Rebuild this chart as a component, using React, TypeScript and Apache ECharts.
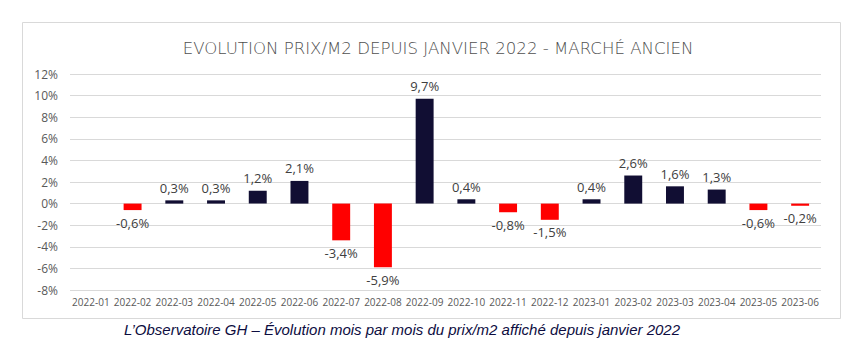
import React, { useEffect, useRef } from "react";
import * as echarts from "echarts";

const categories = [
  "2022-01", "2022-02", "2022-03", "2022-04", "2022-05", "2022-06",
  "2022-07", "2022-08", "2022-09", "2022-10", "2022-11", "2022-12",
  "2023-01", "2023-02", "2023-03", "2023-04", "2023-05", "2023-06",
];
const values: (number | null)[] = [
  null, -0.6, 0.3, 0.3, 1.2, 2.1, -3.4, -5.9, 9.7, 0.4, -0.8, -1.5,
  0.4, 2.6, 1.6, 1.3, -0.6, -0.2,
];
const yTicks = { min: -8, max: 12, interval: 2 };
const titleText = "EVOLUTION PRIX/M2 DEPUIS JANVIER 2022 - MARCHÉ ANCIEN";
const captionText = "L’Observatoire GH – Évolution mois par mois du prix/m2 affiché depuis janvier 2022";

const POS = "#110e33";
const NEG = "#ff0000";
const FONT = "'Open Sans', sans-serif";

export default function App() {
  const ref = useRef<HTMLDivElement>(null);
  useEffect(() => {
    if (!ref.current) return;
    const chart = echarts.init(ref.current, null, { renderer: "svg" });
    const fmt = (v: number) => v.toFixed(1).replace(".", ",") + "%";
    chart.setOption({
      animation: false,
      backgroundColor: "#ffffff",
      title: {
        text: titleText,
        left: 433,
        top: 35,
        textAlign: "center",
        textStyle: { color: "#4f4f4f", fontSize: 16.6, fontWeight: 200, fontFamily: "'DejaVu Sans', sans-serif" },
      },
      graphic: [
        {
          type: "rect",
          shape: { x: 22.5, y: 22.5, width: 818, height: 296 },
          style: { fill: "none", stroke: "#d9d9d9", lineWidth: 1 },
          silent: true,
        },
        {
          type: "text",
          x: 402,
          y: 329,
          style: {
            text: captionText,
            fill: "#0d0d3f",
            font: "italic 15px 'Liberation Sans', sans-serif",
            textAlign: "center",
            textVerticalAlign: "middle",
          },
        },
      ],
      grid: { left: 70, right: 39, top: 74, bottom: 66 },
      xAxis: {
        type: "category",
        data: categories,
        axisLine: { show: false },
        axisTick: { show: false },
        axisLabel: { color: "#595959", fontSize: 10, fontFamily: FONT, margin: 7, interval: 0 },
      },
      yAxis: {
        type: "value",
        min: yTicks.min,
        max: yTicks.max,
        interval: yTicks.interval,
        axisLine: { show: false },
        axisTick: { show: false },
        splitLine: { lineStyle: { color: "#d9d9d9", width: 1 } },
        axisLabel: {
          color: "#595959",
          fontSize: 12,
          fontFamily: FONT,
          margin: 12,
          formatter: (v: number) => v + "%",
        },
      },
      series: [
        {
          type: "bar",
          barWidth: "43%",
          data: values.map((v) =>
            v === null
              ? { value: null }
              : {
                  value: v,
                  itemStyle: { color: v >= 0 ? POS : NEG },
                  label: {
                    show: true,
                    position: v >= 0 ? "top" : "bottom",
                    distance: 6,
                    formatter: () => fmt(v),
                    color: "#404040",
                    fontSize: 13,
                    fontFamily: FONT,
                  },
                }
          ),
        },
      ],
    });
    return () => chart.dispose();
  }, []);
  return (
    <div
      ref={ref}
      style={{ position: "absolute", left: 0, top: 0, width: 860, height: 356 }}
    />
  );
}
